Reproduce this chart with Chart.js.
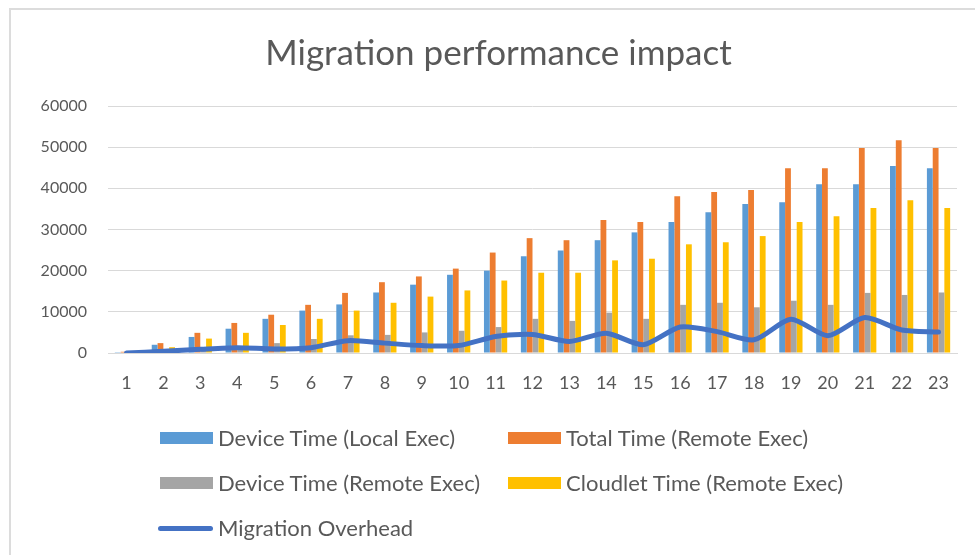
<!DOCTYPE html>
<html>
<head>
<meta charset="utf-8">
<script src="https://cdn.jsdelivr.net/npm/chart.js@4.4.1/dist/chart.umd.min.js"></script>
<style>
  html, body { margin: 0; padding: 0; background: #fff; }
  #page { position: relative; width: 975px; height: 555px; overflow: hidden; }
  #frame { position: absolute; left: 9px; top: 8px; right: -4px; bottom: -4px;
           border-top: 2px solid #dcdcdc; border-left: 2px solid #dcdcdc; }
  #wrap { position: absolute; left: 0; top: 0; width: 975px; height: 555px; }
  #title { position: absolute; left: 11px; width: 975px; top: 30px; text-align: center;
           font-family: Lato, "Open Sans", sans-serif; font-size: 35px; color: #595959; }
  .leg { position: absolute; font-family: Lato, sans-serif;
         font-size: 21px; color: #595959; white-space: nowrap; line-height: 20px; }
  .leg span { display: inline-block; transform-origin: 0 50%; }
  .leg i { position: absolute; left: -58px; top: 4px; width: 53px; height: 12px; }
  .leg i.ln { top: 8px; height: 5px; border-radius: 3px; width: 55px; left: -60px; }
</style>
</head>
<body>
<div id="page">
  <div id="frame"></div>
  <div id="wrap"><canvas id="chart" width="975" height="555"></canvas></div>
  <div id="title">Migration performance impact</div>
  <div id="legend"></div>
</div>
<script>
// run numbers 1..23
const categories = ['1','2','3','4','5','6','7','8','9','10','11','12','13','14','15','16','17','18','19','20','21','22','23'];

const deviceLocal = [200, 2000, 3900, 5900, 8300, 10300, 11800, 14700, 16600, 19000, 20000, 23500,
  24900, 27400, 29300, 31800, 34200, 36200, 36600, 41000, 41000, 45400, 44900];
const totalRemote = [300, 2400, 4900, 7300, 9300, 11700, 14600, 17200, 18600, 20500, 24400, 27900,
  27400, 32300, 31800, 38100, 39100, 39600, 44900, 44900, 49800, 51700, 49800];
const deviceRemote = [100, 500, 1000, 1500, 2400, 3400, 4300, 4400, 5000, 5400, 6300, 8300,
  7800, 9800, 8300, 11700, 12200, 11100, 12700, 11700, 14600, 14100, 14700];
const cloudletRemote = [100, 1400, 3500, 4900, 6800, 8300, 10300, 12200, 13700, 15200, 17600, 19500,
  19500, 22500, 22900, 26400, 26900, 28400, 31800, 33200, 35200, 37100, 35200];
const migrationOverhead = [0, 400, 900, 1300, 1000, 1300, 3000, 2400, 1800, 1800, 4000, 4500,
  2800, 4800, 2000, 6300, 5200, 3200, 8200, 4200, 8600, 5600, 5100];

const yTicks = [0, 10000, 20000, 30000, 40000, 50000, 60000];

const series = [
  { label: 'Device Time (Local Exec)', data: deviceLocal, color: '#5B9BD5' },
  { label: 'Total Time (Remote Exec)', data: totalRemote, color: '#ED7D31' },
  { label: 'Device Time (Remote Exec)', data: deviceRemote, color: '#A5A5A5' },
  { label: 'Cloudlet Time (Remote Exec)', data: cloudletRemote, color: '#FFC000' },
];
const lineSeries = { label: 'Migration Overhead', data: migrationOverhead, color: '#4472C4' };

const textColor = '#595959';
const gridColor = '#d9d9d9';

const datasets = series.map((s) => ({
  type: 'bar',
  label: s.label,
  data: s.data,
  backgroundColor: s.color,
  borderWidth: 0,
  barPercentage: 1.0,
  categoryPercentage: 0.63,
  order: 1,
}));
datasets.push({
  type: 'line',
  label: lineSeries.label,
  data: lineSeries.data,
  borderColor: lineSeries.color,
  backgroundColor: lineSeries.color,
  borderWidth: 5,
  pointRadius: 0,
  tension: 0.25,
  borderCapStyle: 'round',
  borderJoinStyle: 'round',
  order: 0,
});

new Chart(document.getElementById('chart'), {
  data: { labels: categories, datasets },
  options: {
    responsive: false,
    animation: false,
    layout: { padding: { left: 10, right: 18, top: 106, bottom: 157 } },
    plugins: {
      legend: { display: false },
      title: { display: false },
      tooltip: { enabled: false },
    },
    scales: {
      x: {
        grid: { display: false, drawTicks: false },
        border: { color: gridColor, width: 1 },
        ticks: { color: textColor, font: { family: 'Lato, sans-serif', size: 18 }, padding: 19, maxRotation: 0, autoSkip: false },
        afterFit: (scale) => { scale.height = 45; },
      },
      y: {
        min: 0,
        max: 60000,
        afterBuildTicks: (scale) => { scale.ticks = yTicks.map((v) => ({ value: v })); },
        grid: { color: gridColor, lineWidth: 1, drawTicks: false },
        border: { display: false },
        ticks: { color: textColor, font: { family: 'Lato, sans-serif', size: 16 }, padding: 21, callback: (v) => String(v) },
        afterFit: (scale) => { scale.width = 98; },
      },
    },
  },
});

// legend laid out as a two-column grid under the plot; labels squeezed to a narrow face
const legendItems = [
  { s: series[0], x: 218, y: 428 },
  { s: series[1], x: 566, y: 428 },
  { s: series[2], x: 218, y: 473 },
  { s: series[3], x: 566, y: 473 },
  { s: lineSeries, x: 218, y: 518, line: true },
];
const measure = document.createElement('canvas').getContext('2d');
measure.font = '21px Lato';
const squeeze = 238 / measure.measureText(series[0].label).width;

const legendEl = document.getElementById('legend');
legendItems.forEach((it) => {
  const d = document.createElement('div');
  d.className = 'leg';
  d.style.left = it.x + 'px';
  d.style.top = it.y + 'px';
  const sw = document.createElement('i');
  if (it.line) sw.className = 'ln';
  sw.style.background = it.s.color;
  d.appendChild(sw);
  const t = document.createElement('span');
  t.textContent = it.s.label;
  t.style.transform = 'scaleX(' + squeeze.toFixed(3) + ')';
  d.appendChild(t);
  legendEl.appendChild(d);
});
</script>
</body>
</html>
